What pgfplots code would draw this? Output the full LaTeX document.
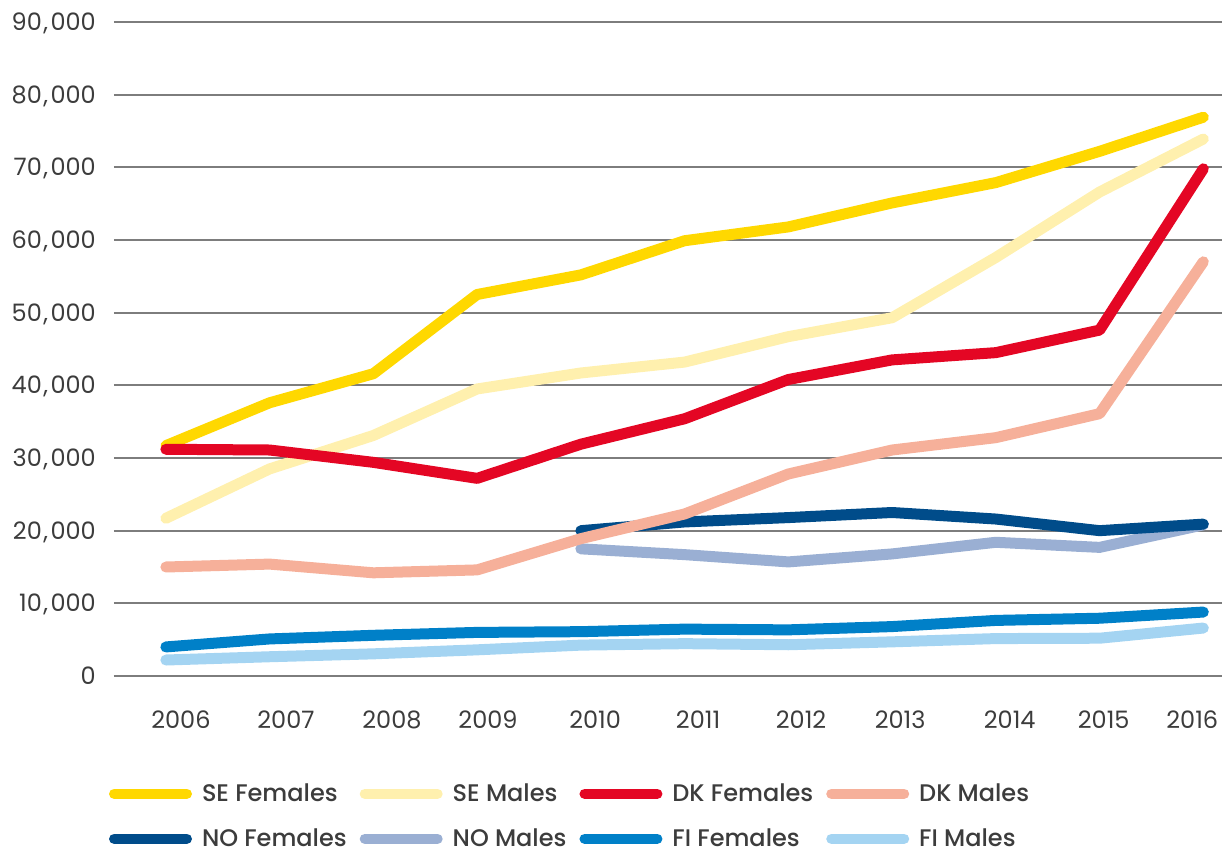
\documentclass[border=0pt]{standalone}
\usepackage{fontspec}
\setmainfont{Poppins}
\newfontfamily\legfont{Poppins Medium}
\usepackage{pgfplots}
\pgfplotsset{compat=1.18}
\usepackage{pgfplotstable}

\definecolor{sef}{RGB}{255,216,0}
\definecolor{sem}{RGB}{255,240,174}
\definecolor{dkf}{RGB}{228,6,36}
\definecolor{dkm}{RGB}{246,176,154}
\definecolor{nof}{RGB}{0,76,138}
\definecolor{nom}{RGB}{154,175,211}
\definecolor{fif}{RGB}{0,128,200}
\definecolor{fim}{RGB}{164,212,242}
\definecolor{gridgray}{RGB}{125,125,125}
\definecolor{zerogray}{RGB}{64,64,64}
\definecolor{textgray}{RGB}{60,60,60}

\pgfplotstableread{
year  SEF   SEM   DKF   DKM   NOF   NOM   FIF  FIM
2006  31700 21700 31200 15000 nan   nan   4000 2200
2007  37600 28500 31100 15400 nan   nan   5100 2650
2008  41600 33100 29400 14200 nan   nan   5600 3050
2009  52500 39500 27200 14600 nan   nan   6000 3600
2010  55200 41700 31900 18900 20000 17500 6100 4250
2011  59900 43200 35400 22300 21200 16700 6450 4450
2012  61800 46700 40800 27800 21800 15700 6350 4300
2013  65100 49300 43500 31100 22500 16800 6800 4700
2014  67900 57600 44500 32800 21600 18400 7650 5150
2015  72200 66600 47600 36100 20000 17700 7950 5200
2016  76900 73900 69800 57000 20900 20800 8800 6600
}\data

\begin{document}
\begin{tikzpicture}
\begin{axis}[
  at={(0pt,0pt)}, anchor=south west,
  scale only axis, width=1108pt, height=654pt,
  xmin=2005.5, xmax=2016.18, ymin=0, ymax=90000,
  axis line style={draw=none},
  major tick length=0pt,
  scaled y ticks=false,
  ytick={0,10000,...,90000},
  ymajorgrids,
  major grid style={line width=2pt, color=gridgray},
  extra y ticks={0}, extra y tick labels={},
  extra y tick style={grid style={line width=3pt, color=zerogray}},
  xtick={2006.145,2007.157,2008.179,2009.105,2010.137,2011.130,2012.123,2013.078,2014.134,2015.040,2015.894},
  xticklabels={2006,2007,2008,2009,2010,2011,2012,2013,2014,2015,2016},
  /pgf/number format/1000 sep={\kern1.5pt,\kern2.5pt},
  /pgf/number format/assume math mode=true,
  ticklabel style={font=\fontsize{24}{28}\selectfont, text=textgray},
  yticklabel style={anchor=base east, inner sep=0pt, xshift=-18pt, yshift=-8.5pt},
  xticklabel style={anchor=base, inner sep=0pt, yshift=-52pt},
  legend columns=4,
  legend cell align=left,
  legend image code/.code={\draw[#1, line width=10.5pt, line cap=round] (0pt,0pt) -- (72.5pt,0pt); \path[draw=none, fill=none] (-5.25pt,-13.75pt) rectangle (87.75pt,13.75pt);},
  legend style={at={(axis description cs:0,0)}, anchor=north west, xshift=-5pt, yshift=-104pt,
    draw=none, fill=none, inner sep=0pt, outer sep=0pt,
    font=\legfont\fontsize{24}{28}\selectfont, text=textgray,
    nodes={inner sep=0pt}, column sep=0pt, row sep=17.5pt,
    /tikz/every even column/.append style={column sep=13pt}},
  every axis plot/.append style={line width=11pt, line cap=round, line join=round},
]
\addlegendimage{sef}\addlegendentry{SE Females}
\addlegendimage{sem}\addlegendentry{SE Males}
\addlegendimage{dkf}\addlegendentry{DK Females}
\addlegendimage{dkm}\addlegendentry{DK Males}
\addlegendimage{nof}\addlegendentry{NO Females}
\addlegendimage{nom}\addlegendentry{NO Males}
\addlegendimage{fif}\addlegendentry{FI Females}
\addlegendimage{fim}\addlegendentry{FI Males}

\addplot[sef, forget plot] table[x=year, y=SEF] {\data};
\addplot[sem, forget plot] table[x=year, y=SEM] {\data};
\addplot[dkf, forget plot] table[x=year, y=DKF] {\data};
\addplot[nom, forget plot] table[x=year, y=NOM] {\data};
\addplot[nof, forget plot] table[x=year, y=NOF] {\data};
\addplot[dkm, forget plot] table[x=year, y=DKM] {\data};
\addplot[fif, forget plot] table[x=year, y=FIF] {\data};
\addplot[fim, forget plot] table[x=year, y=FIM] {\data};
\end{axis}
\pgfresetboundingbox
\useasboundingbox (-114pt,-174pt) rectangle (1108pt,676pt);
\end{tikzpicture}
\end{document}
